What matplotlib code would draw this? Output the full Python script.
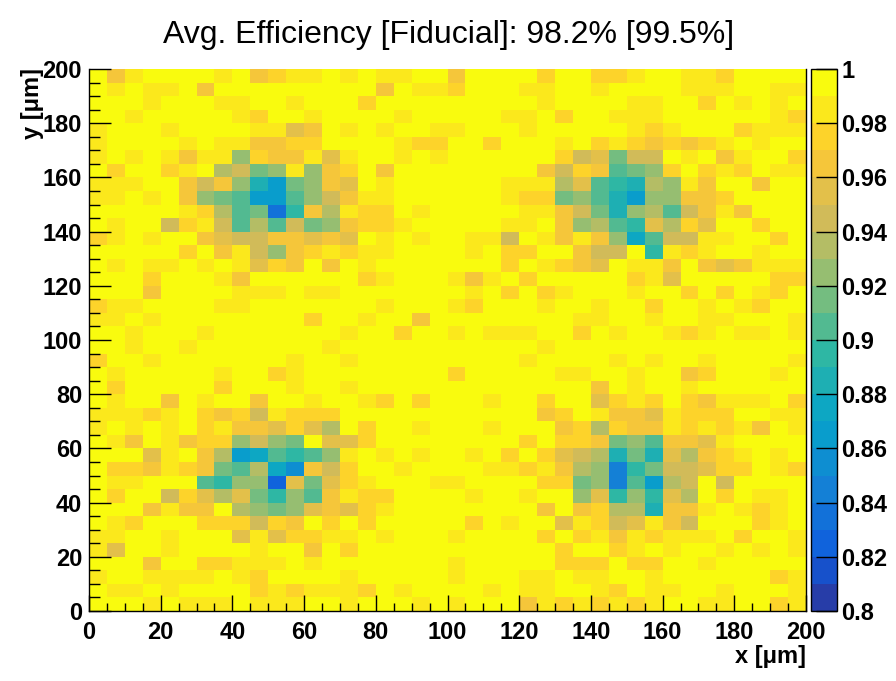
import numpy as np
import matplotlib
matplotlib.use("Agg")
import matplotlib.pyplot as plt
from matplotlib.colors import ListedColormap, BoundaryNorm

# efficiency map, 40x40 bins of 5 um, top row first (y = 195..200 first)
# each character = how many 0.01 steps the bin sits below 1.0
# ('0' -> 0.99-1.00, '9' -> 0.90-0.91, 'a' -> 0.89-0.90, ...)
eff_rows = [
    "0310000103211010110030000200221001120000",
    "0101103000000000301120001100100001110011",
    "0001000110010002000000000100001100201010",
    "0010000012001000010000011020011100000012",
    "1000100001143010100110001000001210002111",
    "1000010113322000012200200010212323210100",
    "1010131172331410010100000025485501031002",
    "0200210658717320300000000352398720212011",
    "111003537bd873401000000111649ab671300300",
    "110103789dd975311000000122879bd773320000",
    "0000012698ga36122010000011358b7695313000",
    "010052159695873221000001103769a462400200",
    "210100345533434010100115013137c955110020",
    "0000020315732121100001022003550a12100100",
    "0101101014230301000000020123401130343111",
    "0002000130000002100013102000002140000022",
    "0003000011101100000001020210001002020120",
    "2110000110000000100012000100100200101200",
    "1101000000002001003000000001100100110001",
    "0010001000000010020010111002010012101101",
    "0010010000000100000000000100000000000000",
    "2001000000010010000000001000010100100001",
    "0100000100210000000020000011001003200010",
    "0200000200010010000000000000301001000000",
    "0100301003001001202000100200421202311102",
    "1112102325122200000000000320133412220011",
    "1010102133424602001000100032623312121301",
    "0130132275780442000000002022387933410000",
    "00041036dc9a97101010010202456b8b46321010",
    "0223123896ce35200100001121367fa855422012",
    "0110009a77h484210001100002287f9d65050000",
    "0200524648a793122000010010074a7a46020110",
    "0003133067874342100000000303266b33101210",
    "0120002225230202000002010041254135000210",
    "1100100041422110100010000202131211102001",
    "1400100001003020000000000020021010010101",
    "0003002211101000000010000022202200100000",
    "1001111012000010000010001101100100000021",
    "0110100002121112010000101100120110010001",
    "0001011101110010001010003121212100110021",
]

x_edges = np.arange(0, 205, 5)
y_edges = np.arange(0, 205, 5)
z_levels = np.round(np.arange(0.80, 1.0001, 0.01), 2)
z_ticks = [0.8, 0.82, 0.84, 0.86, 0.88, 0.9, 0.92, 0.94, 0.96, 0.98, 1.0]
xy_ticks = list(range(0, 201, 20))
title = "Avg. Efficiency [Fiducial]: 98.2% [99.5%]"

steps = np.array([[int(ch, 36) for ch in row] for row in eff_rows])
eff = 1.0 - 0.01 * (steps + 0.5)
eff = eff[::-1]  # bottom row first for pcolormesh

# ROOT kBird palette, 20 contours
stops = [0.0, 0.125, 0.25, 0.375, 0.5, 0.625, 0.75, 0.875, 1.0]
red = [0.2082, 0.0592, 0.0780, 0.0232, 0.1802, 0.5301, 0.8186, 0.9956, 0.9764]
green = [0.1664, 0.3599, 0.5041, 0.6419, 0.7178, 0.7492, 0.7328, 0.7862, 0.9832]
blue = [0.5293, 0.8684, 0.8385, 0.7914, 0.6425, 0.4662, 0.3499, 0.1968, 0.0539]
ncol = 255
pos = np.arange(ncol) / (ncol - 1)
grad = np.column_stack([np.interp(pos, stops, c) for c in (red, green, blue)])
ncont = len(z_levels) - 1
idx = [int((i + 0.99) * ncol / ncont) for i in range(ncont)]
cmap = ListedColormap(grad[idx])
norm = BoundaryNorm(z_levels, cmap.N)

plt.rcParams["font.family"] = ["Liberation Sans", "DejaVu Sans"]

fig = plt.figure(figsize=(8.96, 6.81), dpi=100)
W, H = 896, 681
ax = fig.add_axes([89 / W, 1 - 611 / H, 717 / W, 542 / H])
cax = fig.add_axes([811 / W, 1 - 611 / H, 26 / W, 542 / H])

mesh = ax.pcolormesh(x_edges, y_edges, eff, cmap=cmap, norm=norm)
ax.set_xlim(0, 200)
ax.set_ylim(0, 200)

ax.set_xticks(xy_ticks)
ax.set_yticks(xy_ticks)
ax.set_xticks(np.arange(0, 201, 5), minor=True)
ax.set_yticks(np.arange(0, 201, 5), minor=True)
ax.tick_params(axis="both", which="both", direction="in", width=1, colors="black",
               top=False, right=False, labelsize=17)
ax.tick_params(axis="x", which="major", length=11.5, pad=7)
ax.tick_params(axis="x", which="minor", length=5.8)
ax.tick_params(axis="y", which="major", length=15.5, pad=5)
ax.tick_params(axis="y", which="minor", length=7.8)
for lab in ax.get_xticklabels() + ax.get_yticklabels():
    lab.set_fontweight("bold")
ax.spines["top"].set_visible(False)
for side in ("left", "bottom", "right"):
    ax.spines[side].set_linewidth(1)

fig.text(806 / W, 1 - 656 / H, "x [μm]", ha="right", va="center",
         fontsize=17, fontweight="bold")
fig.text(32 / W, 1 - 68 / H, "y [μm]", ha="center", va="top", rotation=90,
         fontsize=17, fontweight="bold")
fig.text(449 / W, 1 - 35 / H, title, ha="center", va="center", fontsize=23)

cb = fig.colorbar(mesh, cax=cax, ticks=z_ticks)
cb.outline.set_linewidth(1)
cb.ax.set_yticklabels(["%g" % t for t in z_ticks])
cb.ax.tick_params(which="major", direction="in", length=15, width=1, pad=3, labelsize=17)
cb.ax.minorticks_off()
for lab in cb.ax.get_yticklabels():
    lab.set_fontweight("bold")

fig.savefig("out.png", dpi=100)
